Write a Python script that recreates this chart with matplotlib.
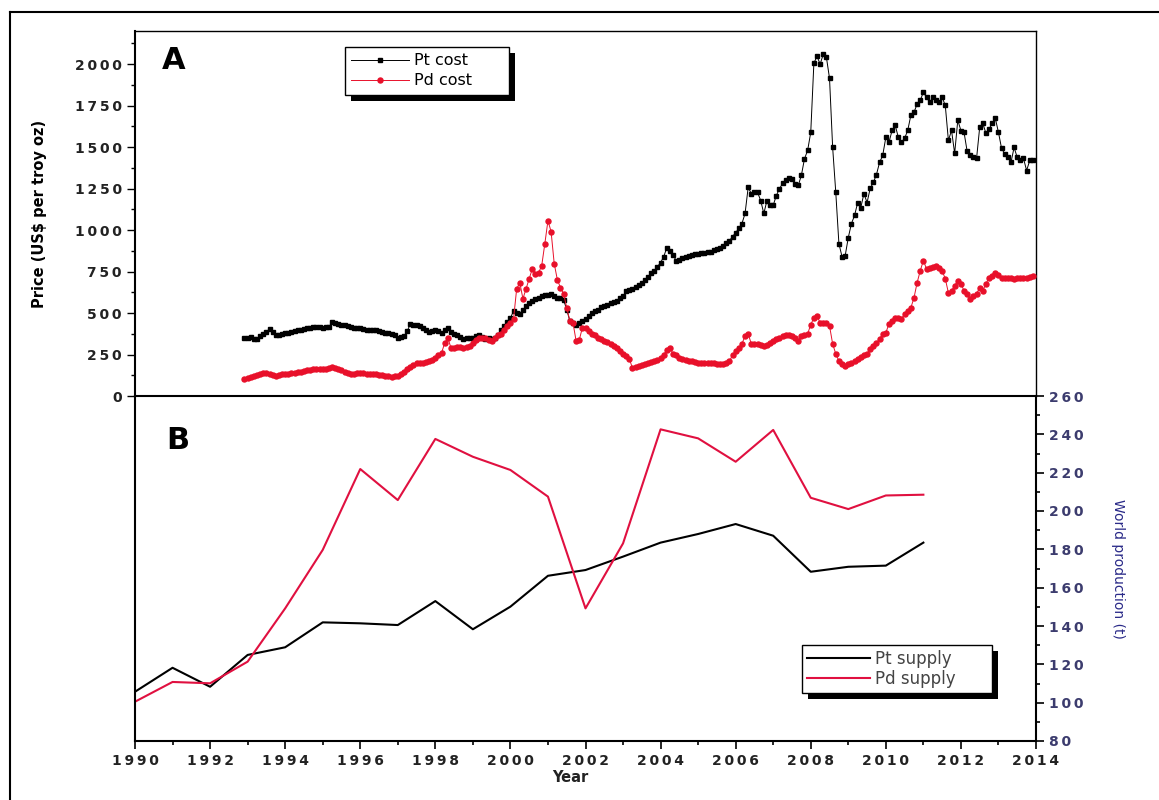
import numpy as np
import matplotlib
matplotlib.use("Agg")
import matplotlib.pyplot as plt
from matplotlib.ticker import MultipleLocator, FuncFormatter
from matplotlib.patches import Rectangle
from matplotlib.lines import Line2D

# ── data ─────────────────────────────────────────────────────────────────────
START_YEAR, START_MONTH = 1992, 12   # first monthly price point

pt_price = [
    352,                                                                    # 1992 Dec
    350, 355, 345, 344, 362, 375, 385, 405, 385, 365, 368, 375,             # 1993
    378, 380, 385, 392, 398, 400, 405, 408, 411, 414, 417, 415,             # 1994
    411, 414, 417, 447, 440, 435, 430, 425, 420, 413, 411, 410,             # 1995
    411, 405, 398, 400, 398, 395, 393, 388, 382, 378, 375, 365,             # 1996
    350, 356, 362, 390, 435, 430, 425, 420, 411, 395, 387, 392,             # 1997
    398, 390, 380, 395, 411, 385, 375, 365, 355, 344, 348, 350,             # 1998
    352, 360, 368, 355, 344, 350, 344, 350, 368, 395, 423, 445,             # 1999
    470, 513, 500, 495, 520, 540, 562, 575, 585, 592, 600, 610,             # 2000
    610, 616, 600, 592, 590, 580, 520, 453, 440, 429, 440, 455,             # 2001
    465, 480, 500, 513, 520, 535, 544, 550, 560, 565, 574, 590,             # 2002
    600, 634, 640, 646, 660, 670, 683, 700, 720, 740, 755, 780,             # 2003
    804, 840, 894, 875, 850, 815, 820, 830, 840, 846, 850, 855,             # 2004
    858, 860, 864, 866, 870, 878, 888, 895, 905, 925, 936, 960,             # 2005
    985, 1010, 1039, 1100, 1257, 1220, 1230, 1227, 1178, 1100, 1178, 1150,  # 2006
    1150, 1208, 1250, 1281, 1300, 1311, 1305, 1280, 1269, 1330, 1430, 1480, # 2007
    1589, 2006, 2048, 2000, 2060, 2042, 1915, 1498, 1227, 918, 840, 845,    # 2008
    955, 1039, 1088, 1166, 1136, 1220, 1166, 1251, 1287, 1335, 1408, 1450,  # 2009
    1559, 1529, 1601, 1631, 1559, 1529, 1553, 1601, 1692, 1710, 1760, 1782, # 2010
    1831, 1800, 1770, 1800, 1782, 1770, 1800, 1752, 1540, 1601, 1462, 1662, # 2011
    1600, 1589, 1474, 1450, 1438, 1432, 1619, 1643, 1583, 1610, 1643, 1673, # 2012
    1589, 1492, 1460, 1438, 1408, 1498, 1438, 1420, 1432, 1359, 1420, 1420, # 2013
]

pd_price = [
    103,                                                                    # 1992 Dec
    109, 112, 121, 125, 133, 136, 139, 133, 128, 121, 125, 130,             # 1993
    133, 133, 136, 139, 142, 145, 151, 155, 158, 163, 163, 163,             # 1994
    163, 165, 170, 175, 168, 163, 155, 145, 140, 133, 135, 139,             # 1995
    139, 136, 133, 133, 133, 130, 127, 125, 121, 118, 115, 118,             # 1996
    121, 130, 145, 160, 175, 185, 199, 199, 199, 205, 211, 220,             # 1997
    230, 245, 260, 320, 350, 290, 292, 296, 293, 290, 296, 302,             # 1998
    320, 340, 350, 350, 350, 340, 332, 350, 365, 375, 400, 420,             # 1999
    441, 465, 646, 683, 586, 646, 707, 767, 737, 743, 785, 918,             # 2000
    1057, 991, 798, 701, 653, 616, 532, 453, 441, 332, 338, 411,            # 2001
    411, 390, 375, 368, 350, 345, 332, 325, 314, 300, 290, 270,             # 2002
    254, 240, 224, 169, 175, 181, 185, 195, 199, 205, 211, 220,             # 2003
    230, 250, 275, 290, 254, 245, 230, 222, 215, 211, 208, 205,             # 2004
    199, 199, 199, 200, 199, 197, 195, 193, 195, 200, 211, 245,             # 2005
    272, 290, 314, 362, 375, 314, 314, 314, 305, 302, 310, 320,             # 2006
    330, 344, 350, 362, 365, 368, 360, 350, 332, 362, 365, 375,             # 2007
    430, 471, 483, 441, 441, 441, 423, 314, 254, 211, 193, 181,             # 2008
    190, 199, 210, 224, 236, 245, 254, 284, 302, 320, 344, 375,             # 2009
    381, 435, 450, 471, 468, 465, 495, 515, 532, 592, 683, 755,             # 2010
    816, 767, 773, 780, 785, 770, 755, 707, 622, 634, 665, 695,             # 2011
    677, 634, 616, 586, 600, 616, 653, 634, 677, 713, 725, 743,             # 2012
    730, 713, 713, 713, 710, 707, 713, 713, 713, 713, 720, 725,             # 2013
]

supply_years = list(range(1990, 2012))
pt_supply = [105.7, 118.2, 108.3, 124.9, 128.9, 141.9, 141.4, 140.5, 153.0, 138.3, 150.1,
             166.2, 169.2, 176.2, 183.5, 188.0, 193.2, 187.1, 168.3, 170.9, 171.5, 183.5]
pd_supply = [100.5, 110.8, 110.1, 121.4, 149.2, 179.7, 221.9, 205.7, 237.6, 228.3, 221.4,
             207.5, 149.2, 183.1, 242.6, 237.9, 225.7, 242.3, 206.9, 201.0, 208.1, 208.5]

# monthly time axis in decimal years
t_month = START_YEAR + (START_MONTH - 1) / 12 + np.arange(len(pt_price)) / 12

PD_RED   = "#e8102a"
PD_LINE  = "#e01040"
NAVY     = "#2a2a88"
TICK_COL = "#222222"

def spaced(v, pos=None):
    # letter-spaced digits, as in the original figure
    return "\u2009".join(str(int(round(v))))

def add_shadow(ax, leg, off=6):
    fig = ax.figure
    fig.canvas.draw()
    bb = leg.get_window_extent()
    inv = ax.transAxes.inverted()
    (x0, y0), (x1, y1) = inv.transform([(bb.x0 + off, bb.y0 - off), (bb.x1 + off, bb.y1 - off)])
    ax.add_patch(Rectangle((x0, y0), x1 - x0, y1 - y0, transform=ax.transAxes,
                           facecolor="black", edgecolor="none", zorder=4.9, clip_on=False))

# ── figure ───────────────────────────────────────────────────────────────────
W, H = 1159, 800
fig = plt.figure(figsize=(W / 100, H / 100), dpi=100)
fig.patch.set_facecolor("white")

left, right = 135 / W, 1036 / W
yA_top, yAB, yB_bot = 1 - 31 / H, 1 - 396 / H, 1 - 741 / H
axA = fig.add_axes([left, yAB, right - left, yA_top - yAB])
axB = fig.add_axes([left, yB_bot, right - left, yAB - yB_bot])
for ax in (axA, axB):
    ax.patch.set_visible(False)
    ax.set_xlim(1990, 2014)

# outer frame (left and top edges visible)
fig.add_artist(Line2D([10 / W, 10 / W], [0, 1 - 12 / H], color="black", lw=1.5))
fig.add_artist(Line2D([10 / W, 1], [1 - 12 / H, 1 - 12 / H], color="black", lw=1.5))

# ── panel A : prices ─────────────────────────────────────────────────────────
axA.plot(t_month, pt_price, color="black", lw=0.7, marker="s", ms=3.2,
         mec="black", mfc="black", label="Pt cost      ", zorder=3)
axA.plot(t_month, pd_price, color=PD_RED, lw=0.7, marker="o", ms=3.6,
         mec=PD_RED, mfc=PD_RED, label="Pd cost      ", zorder=3)
axA.set_ylim(0, 2200)
axA.yaxis.set_major_locator(MultipleLocator(250))
axA.yaxis.set_minor_locator(MultipleLocator(125))
axA.yaxis.set_major_formatter(FuncFormatter(spaced))
axA.tick_params(axis="y", which="major", direction="out", length=6, width=1,
                labelsize=10, labelcolor=TICK_COL)
axA.tick_params(axis="y", which="minor", direction="out", length=3, width=1)
axA.tick_params(axis="x", which="both", bottom=False, labelbottom=False)
for lab in axA.get_yticklabels():
    lab.set_fontweight("bold")
for s in axA.spines.values():
    s.set_linewidth(1.0)
axA.spines["left"].set_linewidth(1.5)
axA.spines["bottom"].set_visible(False)
axA.set_ylabel("Price (US\\$ per troy oz)", fontsize=10.5, fontweight="bold", labelpad=20)
axA.text(0.03, 0.92, "A", transform=axA.transAxes, fontsize=22, fontweight="bold",
         va="center", ha="left")

legA = axA.legend(loc="upper left", bbox_to_anchor=(345 / W, 1 - 47 / H),
                  bbox_transform=fig.transFigure, borderaxespad=0, fancybox=False,
                  edgecolor="black", framealpha=1, fontsize=11.5, handlelength=3.6,
                  handletextpad=0.3, borderpad=0.4, labelspacing=0.3)
legA.get_frame().set_linewidth(1.0)
legA.set_zorder(5)

# ── panel B : supply ─────────────────────────────────────────────────────────
axB.plot(supply_years, pt_supply, color="black", lw=1.5, label="Pt supply      ")
axB.plot(supply_years, pd_supply, color=PD_LINE, lw=1.5, label="Pd supply      ")
axB.set_ylim(80, 260)
axB.yaxis.tick_right()
axB.yaxis.set_label_position("right")
axB.yaxis.set_major_locator(MultipleLocator(20))
axB.yaxis.set_minor_locator(MultipleLocator(10))
axB.yaxis.set_major_formatter(FuncFormatter(spaced))
axB.xaxis.set_major_locator(MultipleLocator(2))
axB.xaxis.set_minor_locator(MultipleLocator(1))
axB.xaxis.set_major_formatter(FuncFormatter(spaced))
axB.tick_params(axis="both", which="major", direction="out", length=6, width=1.2, labelsize=10)
axB.tick_params(axis="both", which="minor", direction="out", length=3, width=1.2)
axB.tick_params(axis="y", which="both", labelcolor="#3c3c6e", left=False, right=True)
axB.tick_params(axis="x", labelcolor=TICK_COL)
for lab in axB.get_xticklabels() + axB.get_yticklabels():
    lab.set_fontweight("bold")
for s in axB.spines.values():
    s.set_linewidth(1.5)
axB.set_ylabel("World production (t)", fontsize=10, color=NAVY, rotation=270,
               labelpad=30)
axB.text(0.035, 0.87, "B", transform=axB.transAxes, fontsize=22, fontweight="bold",
         va="center", ha="left")
fig.text(570 / W, 1 - 777 / H, "Year", fontsize=10.5, fontweight="bold",
         ha="center", va="center", color="#222222")

legB = axB.legend(loc="upper left", bbox_to_anchor=(802 / W, 1 - 645 / H),
                  bbox_transform=fig.transFigure, borderaxespad=0, fancybox=False,
                  edgecolor="black", framealpha=1, fontsize=12, handlelength=3.8,
                  handletextpad=0.3, borderpad=0.3, labelspacing=0.1)
legB.get_frame().set_linewidth(1.0)
legB.set_zorder(5)
for txt in legB.get_texts():
    txt.set_color("#444444")

add_shadow(axA, legA)
add_shadow(axB, legB)

fig.savefig("out.png", dpi=100)
